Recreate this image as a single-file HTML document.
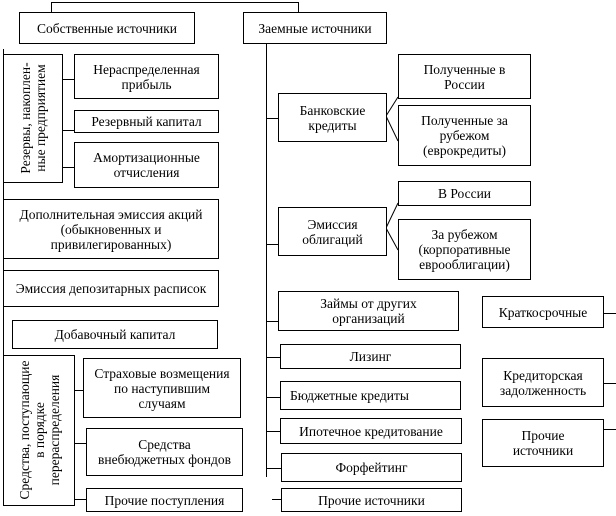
<!DOCTYPE html>
<html><head><meta charset="utf-8"><style>
body{margin:0;width:616px;height:516px;background:#fff;position:relative;overflow:hidden;font-family:"Liberation Serif",serif;font-size:13.5px;color:#000}
.b{position:absolute;border:1px solid #000;box-sizing:border-box;display:flex;align-items:center;justify-content:center;text-align:center;line-height:15px;background:#fff}
.r{position:absolute;display:flex;align-items:center;justify-content:center;text-align:center;line-height:15px;transform:rotate(-90deg);transform-origin:center}
svg{position:absolute;left:0;top:0}
</style></head><body>
<svg width="616" height="516" stroke="#000" stroke-width="1" fill="none">
<path d="M51 2.5H298.5M51.5 2V12M298.5 2V12"/>
<path d="M3.5 49V355"/>
<path d="M62 79.5H74M62 130.5H74M62 167.5H74"/>
<path d="M74 390.5H83M74 443.5H86M74 499.5H86"/>
<path d="M266.5 43V477"/>
<path d="M266 118.5H278M266 244.5H278M266 321.5H283M266 357.5H280M266 397.5H280M266 431.5H280M266 468.5H281M272 499.5H281"/>
<path d="M386 116L398 97M386 116L398 141M386 228L398 203M386 228L398 250"/>
<path d="M603 313.5H616M603 383.5H616M603 429.5H616"/>
</svg>
<div class="b" style="left:19px;top:12px;width:176px;height:32px">Собственные источники</div>
<div class="b" style="left:243px;top:12px;width:144px;height:32px">Заемные источники</div>
<div class="b" style="left:3px;top:54px;width:60px;height:129px"></div>
<div class="r" style="left:-31px;top:103px;width:128px;height:30px">Резервы, накоплен-<br>ные предприятием</div>
<div class="b" style="left:74px;top:54px;width:145px;height:45px">Нераспределенная<br>прибыль</div>
<div class="b" style="left:74px;top:110px;width:145px;height:23px">Резервный капитал</div>
<div class="b" style="left:74px;top:142px;width:145px;height:46px">Амортизационные<br>отчисления</div>
<div class="b" style="left:3px;top:199px;width:216px;height:60px">Дополнительная эмиссия акций<br>(обыкновенных и<br>привилегированных)</div>
<div class="b" style="left:3px;top:270px;width:216px;height:37px">Эмиссия депозитарных расписок</div>
<div class="b" style="left:12px;top:320px;width:206px;height:29px">Добавочный капитал</div>
<div class="b" style="left:3px;top:355px;width:72px;height:151px"></div>
<div class="r" style="left:-35px;top:407px;width:148px;height:46px">Средства, поступающие<br>в порядке<br>перераспределения</div>
<div class="b" style="left:83px;top:358px;width:158px;height:60px">Страховые возмещения<br>по наступившим<br>случаям</div>
<div class="b" style="left:86px;top:428px;width:157px;height:48px">Средства<br>внебюджетных фондов</div>
<div class="b" style="left:86px;top:488px;width:157px;height:24px">Прочие поступления</div>
<div class="b" style="left:278px;top:93px;width:109px;height:49px">Банковские<br>кредиты</div>
<div class="b" style="left:398px;top:54px;width:133px;height:45px">Полученные в<br>России</div>
<div class="b" style="left:398px;top:105px;width:133px;height:61px">Полученные за<br>рубежом<br>(еврокредиты)</div>
<div class="b" style="left:278px;top:207px;width:109px;height:49px">Эмиссия<br>облигаций</div>
<div class="b" style="left:398px;top:181px;width:133px;height:25px">В России</div>
<div class="b" style="left:398px;top:219px;width:133px;height:61px">За рубежом<br>(корпоративные<br>еврооблигации)</div>
<div class="b" style="left:278px;top:291px;width:181px;height:40px">Займы от других<br>организаций</div>
<div class="b" style="left:280px;top:344px;width:181px;height:25px">Лизинг</div>
<div class="b" style="left:280px;top:381px;width:181px;height:29px;justify-content:flex-start;padding-left:9px">Бюджетные кредиты</div>
<div class="b" style="left:280px;top:418px;width:182px;height:26px">Ипотечное кредитование</div>
<div class="b" style="left:281px;top:453px;width:181px;height:29px">Форфейтинг</div>
<div class="b" style="left:281px;top:488px;width:181px;height:24px">Прочие источники</div>
<div class="b" style="left:482px;top:296px;width:122px;height:32px">Краткосрочные</div>
<div class="b" style="left:482px;top:358px;width:122px;height:49px">Кредиторская<br>задолженность</div>
<div class="b" style="left:482px;top:419px;width:122px;height:48px">Прочие<br>источники</div>
</body></html>
